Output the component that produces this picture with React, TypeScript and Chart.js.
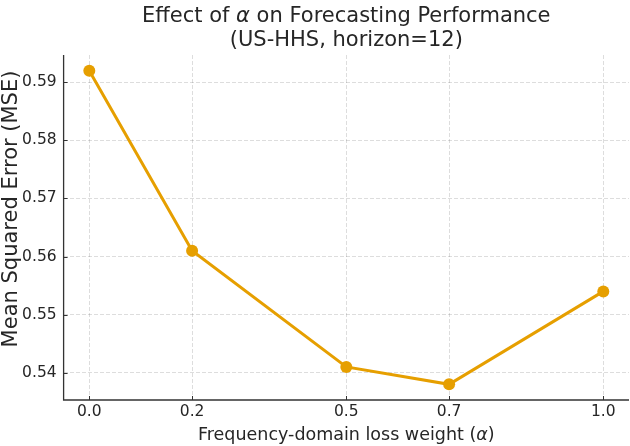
import { useEffect, useRef } from 'react';
import { Chart, registerables } from 'chart.js';

Chart.register(...registerables);

// Loss-weight sweep and resulting error
const alphaValues = [0.0, 0.2, 0.5, 0.7, 1.0];
const mseValues = [0.592, 0.561, 0.541, 0.538, 0.554];

// Axis ticks
const xTickValues = [0.0, 0.2, 0.5, 0.7, 1.0];
const yTickValues = [0.54, 0.55, 0.56, 0.57, 0.58, 0.59];

// Text runs: [text, italic]
const titleLine1: [string, boolean][] = [
  ['Effect of ', false],
  ['α', true],
  [' on Forecasting Performance', false],
];
const titleLine2: [string, boolean][] = [['(US-HHS, horizon=12)', false]];
const xLabelRuns: [string, boolean][] = [
  ['Frequency-domain loss weight (', false],
  ['α', true],
  [')', false],
];
const yLabel = 'Mean Squared Error (MSE)';

const FONT = '"DejaVu Sans", sans-serif';
const LINE_COLOR = '#E69F00';
const TEXT_COLOR = '#262626';
const SPINE_COLOR = '#333333';

function font(size: number, italic: boolean) {
  return `${italic ? 'italic ' : ''}${size}px ${FONT}`;
}

function drawRuns(ctx: CanvasRenderingContext2D, runs: [string, boolean][], cx: number, y: number, size: number) {
  let total = 0;
  for (const [t, it] of runs) {
    ctx.font = font(size, it);
    total += ctx.measureText(t).width;
  }
  let x = cx - total / 2;
  ctx.textAlign = 'left';
  ctx.textBaseline = 'alphabetic';
  for (const [t, it] of runs) {
    ctx.font = font(size, it);
    ctx.fillText(t, x, y);
    x += ctx.measureText(t).width;
  }
}

const decorations = {
  id: 'decorations',
  afterDraw(chart: any) {
    const { ctx, chartArea, scales } = chart;
    const { left, right, top, bottom } = chartArea;
    ctx.save();

    // Left and bottom spines
    ctx.strokeStyle = SPINE_COLOR;
    ctx.lineWidth = 1.3;
    ctx.setLineDash([]);
    ctx.beginPath();
    ctx.moveTo(left, top);
    ctx.lineTo(left, bottom);
    ctx.lineTo(right, bottom);
    ctx.stroke();

    // Inward tick marks
    ctx.lineWidth = 1;
    ctx.beginPath();
    for (const v of xTickValues) {
      const px = Math.round(scales.x.getPixelForValue(v)) + 0.5;
      ctx.moveTo(px, bottom);
      ctx.lineTo(px, bottom - 4);
    }
    for (const v of yTickValues) {
      const py = Math.round(scales.y.getPixelForValue(v)) + 0.5;
      ctx.moveTo(left, py);
      ctx.lineTo(left + 4, py);
    }
    ctx.stroke();

    // Titles
    ctx.fillStyle = TEXT_COLOR;
    const cx = (left + right) / 2;
    drawRuns(ctx, titleLine1, cx, 22, 21);
    drawRuns(ctx, titleLine2, cx, 46, 21);
    drawRuns(ctx, xLabelRuns, cx, 440, 17.5);

    ctx.translate(17, 209);
    ctx.rotate(-Math.PI / 2);
    ctx.font = font(21, false);
    ctx.textAlign = 'center';
    ctx.textBaseline = 'alphabetic';
    ctx.fillText(yLabel, 0, 0);
    ctx.restore();
  },
};

export default function App() {
  const canvasRef = useRef<HTMLCanvasElement | null>(null);

  useEffect(() => {
    const canvas = canvasRef.current;
    if (!canvas) return;
    const chart = new Chart(canvas, {
      type: 'line',
      data: {
        datasets: [
          {
            data: alphaValues.map((a, i) => ({ x: a, y: mseValues[i] })),
            borderColor: LINE_COLOR,
            backgroundColor: LINE_COLOR,
            borderWidth: 3,
            pointRadius: 6,
            pointBorderWidth: 0,
            pointBackgroundColor: LINE_COLOR,
            tension: 0,
            clip: false,
          },
        ],
      },
      options: {
        animation: false,
        responsive: false,
        devicePixelRatio: 1,
        layout: { autoPadding: false, padding: { top: 55, right: 1, left: 0, bottom: 0 } },
        plugins: {
          legend: { display: false },
          tooltip: { enabled: false },
          title: { display: false },
        },
        scales: {
          x: {
            type: 'linear',
            min: -0.05,
            max: 1.05,
            afterBuildTicks: (s: any) => {
              s.ticks = xTickValues.map((v) => ({ value: v }));
            },
            afterFit: (s: any) => {
              s.height = 46;
              s.paddingLeft = 0;
              s.paddingRight = 0;
            },
            ticks: {
              padding: 3,
              color: TEXT_COLOR,
              font: { family: FONT, size: 15.5 },
              maxRotation: 0,
              callback: (v: any) => Number(v).toFixed(1),
            },
            grid: {
              color: 'rgba(0,0,0,0.17)',
              lineWidth: 0.8,
              drawTicks: false,
            },
            border: { display: false, dash: [4, 2] },
          },
          y: {
            type: 'linear',
            min: 0.5353,
            max: 0.5947,
            afterBuildTicks: (s: any) => {
              s.ticks = yTickValues.map((v) => ({ value: v }));
            },
            afterFit: (s: any) => {
              s.width = 63.6;
              s.paddingTop = 0;
              s.paddingBottom = 0;
            },
            ticks: {
              padding: 7,
              color: TEXT_COLOR,
              font: { family: FONT, size: 15.5 },
              callback: (v: any) => Number(v).toFixed(2),
            },
            grid: {
              color: 'rgba(0,0,0,0.17)',
              lineWidth: 0.8,
              drawTicks: false,
            },
            border: { display: false, dash: [4, 2] },
          },
        },
      },
      plugins: [decorations],
    });
    return () => chart.destroy();
  }, []);

  return (
    <div style={{ position: 'fixed', left: 0, top: 0, width: 630, height: 446, background: '#fff' }}>
      <canvas ref={canvasRef} width={630} height={446} />
    </div>
  );
}
